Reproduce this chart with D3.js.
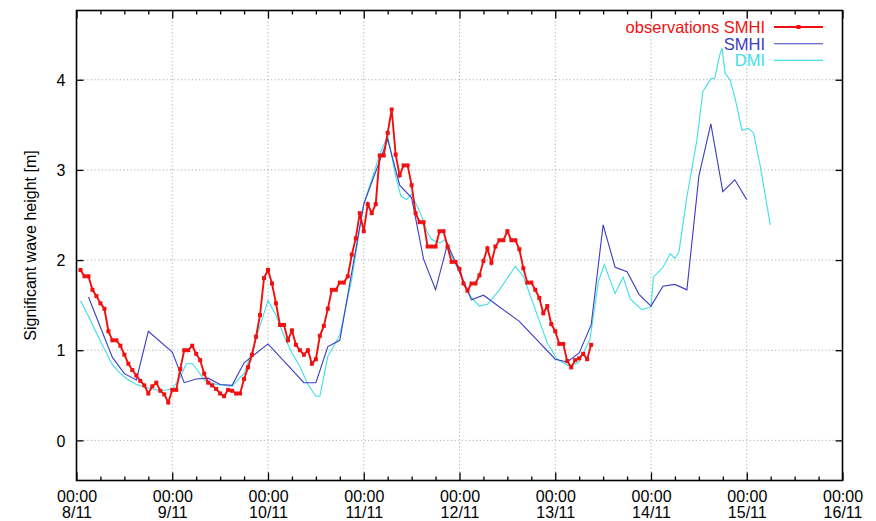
<!DOCTYPE html>
<html><head><meta charset="utf-8">
<script src="https://cdn.jsdelivr.net/npm/d3@7"></script>
<style>
body{margin:0;background:#fff}
svg{display:block}
text{font-family:"Liberation Sans",Arial,Helvetica,sans-serif}
</style></head>
<body><svg id="c" width="876" height="521"></svg>
<script>
// ---- data (hours since 8/11 00:00) ----
const obsStartHour = 1; // hourly observations
const obsValues = [
1.89,1.82,1.82,1.67,1.60,1.52,1.46,1.21,1.11,1.11,
1.05,0.95,0.85,0.78,0.72,0.66,0.61,0.52,0.60,0.64,
0.55,0.51,0.42,0.56,0.56,0.79,1.00,1.00,1.05,0.96,
0.89,0.74,0.64,0.61,0.57,0.52,0.49,0.56,0.55,0.52,
0.52,0.68,0.81,0.95,1.15,1.39,1.80,1.89,1.74,1.52,
1.28,1.28,1.11,1.22,1.06,1.00,0.95,1.00,0.85,0.90,
1.16,1.27,1.46,1.67,1.67,1.75,1.75,1.82,2.06,2.24,
2.52,2.32,2.62,2.52,2.62,3.16,3.16,3.41,3.67,3.17,
2.94,3.05,3.05,2.83,2.52,2.42,2.42,2.15,2.15,2.15,
2.32,2.32,2.15,1.98,1.98,1.90,1.74,1.66,1.74,1.74,
1.83,1.99,2.13,1.97,2.15,2.22,2.22,2.32,2.22,2.22,
2.12,1.91,1.75,1.75,1.67,1.58,1.41,1.49,1.29,1.21,
1.07,1.07,0.88,0.81,0.89,0.91,0.96,0.90,1.06];

const smhiHours = [3,9,12,15,18,24,27,30,33,36,39,42,48,57,60,63,66,72,78,81,84,87,90,93,99,102,111,120,123,126,129,132,135,138,141,144,147,150,153,156,159,162,165,168];
const smhiValues = [1.59,0.92,0.74,0.67,1.21,0.98,0.64,0.68,0.69,0.62,0.61,0.86,1.07,0.64,0.64,1.04,1.11,2.62,3.34,2.83,2.69,2.01,1.67,2.18,1.56,1.61,1.32,0.90,0.87,0.97,1.28,2.39,1.92,1.87,1.62,1.49,1.71,1.73,1.67,2.93,3.51,2.76,2.89,2.67];

const dmiHours = [1,3,5,7,9,11,13,15,18,21,24,26,27.5,29,30.5,32,35,39,41,42,44,46,48,50,52,54,56,58,60,61,63,66,69,72,76,78,80,81.3,82.8,84,86.5,88,89,91,92.5,94,96,98.7,101,103,106,110,112,115,118,120.5,123.3,125.8,128.7,130.8,132.3,135,137,138.8,141.7,144,144.6,147,148.8,150,151,153,155.5,157,159,160,161.2,161.8,162.6,163.8,165,166.8,168.4,169.7,171.4,173.9];
const dmiValues = [1.55,1.38,1.19,1.01,0.84,0.74,0.67,0.62,0.58,0.55,0.57,0.70,0.85,0.85,0.77,0.67,0.62,0.60,0.70,0.74,0.99,1.27,1.55,1.39,1.16,0.97,0.82,0.62,0.49,0.49,0.93,1.17,1.79,2.62,3.17,3.38,2.93,2.71,2.67,2.73,2.49,2.30,2.23,2.19,2.23,2.05,1.86,1.60,1.49,1.51,1.67,1.93,1.82,1.45,1.08,0.90,0.83,0.86,1.12,1.76,1.95,1.63,1.81,1.57,1.45,1.48,1.81,1.92,2.07,2.02,2.09,2.70,3.33,3.87,4.01,4.02,4.27,4.35,4.07,4.00,3.81,3.44,3.46,3.41,3.04,2.39];

const yTicks = [0,1,2,3,4];
const dayTicks = [0,24,48,72,96,120,144,168,192];
const minorHours = [6,12,18,30,36,42,54,60,66,78,84,90,102,108,114,126,132,138,150,156,162,174,180,186];
const legendLabels = ["observations SMHI","SMHI","DMI"];
const colors = {obs:"#f01010", smhi:"#3c3cc4", dmi:"#3ee0e6"};

// ---- layout ----
const L=76.5, R=842.5, T=10.5, B=480.5;
const t0 = Date.UTC(2010,10,8);
const toDate = h => new Date(t0 + h*3600e3);
const x = d3.scaleUtc().domain([toDate(0), toDate(192)]).range([L,R]);
const y = d3.scaleLinear().domain([-0.445,4.768]).range([B,T]);
const svg = d3.select("#c");

// grid
const grid = svg.append("g").attr("stroke","#9a9a9a").attr("stroke-width",0.8).attr("stroke-dasharray","1.2,2.4");
grid.selectAll("line.h").data(yTicks).join("line").attr("x1",L).attr("x2",R).attr("y1",d=>y(d)).attr("y2",d=>y(d));
grid.selectAll("line.v").data(dayTicks.slice(1,-1)).join("line").attr("y1",T).attr("y2",B).attr("x1",d=>x(toDate(d))).attr("x2",d=>x(toDate(d)));

// axes
const fs = 16;
const gl = svg.append("g").attr("transform",`translate(${L},0)`)
  .call(d3.axisLeft(y).tickValues(yTicks).tickSizeInner(-7).tickSizeOuter(0).tickPadding(11).tickFormat(d3.format("d")));
const gr = svg.append("g").attr("transform",`translate(${R},0)`)
  .call(d3.axisRight(y).tickValues(yTicks).tickSizeInner(-7).tickSizeOuter(0).tickFormat(""));
const gb = svg.append("g").attr("transform",`translate(0,${B})`)
  .call(d3.axisBottom(x).tickValues(dayTicks.map(toDate)).tickSizeInner(-8).tickSizeOuter(0).tickPadding(0).tickFormat(""));
const gbm = svg.append("g").attr("transform",`translate(0,${B})`)
  .call(d3.axisBottom(x).tickValues(minorHours.map(toDate)).tickSizeInner(-4).tickSizeOuter(0).tickFormat(""));
const gt = svg.append("g").attr("transform",`translate(0,${T})`)
  .call(d3.axisTop(x).tickValues(dayTicks.map(toDate)).tickSizeInner(-8).tickSizeOuter(0).tickFormat(""));
const gtm = svg.append("g").attr("transform",`translate(0,${T})`)
  .call(d3.axisTop(x).tickValues(minorHours.map(toDate)).tickSizeInner(-4).tickSizeOuter(0).tickFormat(""));
[gl,gr,gb,gbm,gt,gtm].forEach(g=>{
  g.select(".domain").remove();
  g.selectAll(".tick line").attr("stroke","#000").attr("stroke-width",1.3);
  g.selectAll("text").attr("font-size",fs).attr("fill","#000").attr("font-family",null);
});
gl.selectAll(".tick text").attr("dy","0.36em");
// two-line date labels
const fmtDay = d3.utcFormat("%-d/%-m"), fmtTime = d3.utcFormat("%H:%M");
gb.selectAll(".tick").each(function(d){
  const t = d3.select(this).append("text").attr("text-anchor","middle").attr("font-size",fs).attr("fill","#000");
  t.append("tspan").attr("x",0).attr("y",21).text(fmtTime(d));
  t.append("tspan").attr("x",0).attr("y",37).text(fmtDay(d));
});

// frame
svg.append("rect").attr("x",L).attr("y",T).attr("width",R-L).attr("height",B-T)
  .attr("fill","none").attr("stroke","#000").attr("stroke-width",1.6);

// y label
svg.append("text").attr("transform",`translate(35.5,${(T+B)/2}) rotate(-90)`)
  .attr("text-anchor","middle").attr("font-size",fs).attr("fill","#000").text("Significant wave height [m]");

// series
const line = d3.line().x(d=>x(toDate(d[0]))).y(d=>y(d[1]));
const dmi = dmiHours.map((h,i)=>[h,dmiValues[i]]);
const smhi = smhiHours.map((h,i)=>[h,smhiValues[i]]);
const obs = obsValues.map((v,i)=>[obsStartHour+i, v]);
svg.append("path").attr("d",line(dmi)).attr("fill","none").attr("stroke",colors.dmi).attr("stroke-width",1.1);
svg.append("path").attr("d",line(smhi)).attr("fill","none").attr("stroke",colors.smhi).attr("stroke-width",1.1);
svg.append("path").attr("d",line(obs)).attr("fill","none").attr("stroke",colors.obs).attr("stroke-width",1.9);
svg.append("g").selectAll("rect").data(obs).join("rect")
  .attr("x",d=>x(toDate(d[0]))-2).attr("y",d=>y(d[1])-2).attr("width",4).attr("height",4).attr("fill",colors.obs);

// legend
const lg = svg.append("g");
const keys = ["obs","smhi","dmi"];
keys.forEach((k,i)=>{
  const yy = 27 + i*16.7;
  lg.append("text").attr("x",765).attr("y",yy).attr("dy","0.36em").attr("text-anchor","end")
    .attr("font-size",16.5).attr("fill",colors[k]).text(legendLabels[i]);
  lg.append("line").attr("x1",774).attr("x2",823).attr("y1",yy).attr("y2",yy)
    .attr("stroke",colors[k]).attr("stroke-width",k==="obs"?1.8:1.1);
  if(k==="obs") lg.append("rect").attr("x",796.5).attr("y",yy-2).attr("width",4).attr("height",4).attr("fill",colors.obs);
});
</script></body></html>
